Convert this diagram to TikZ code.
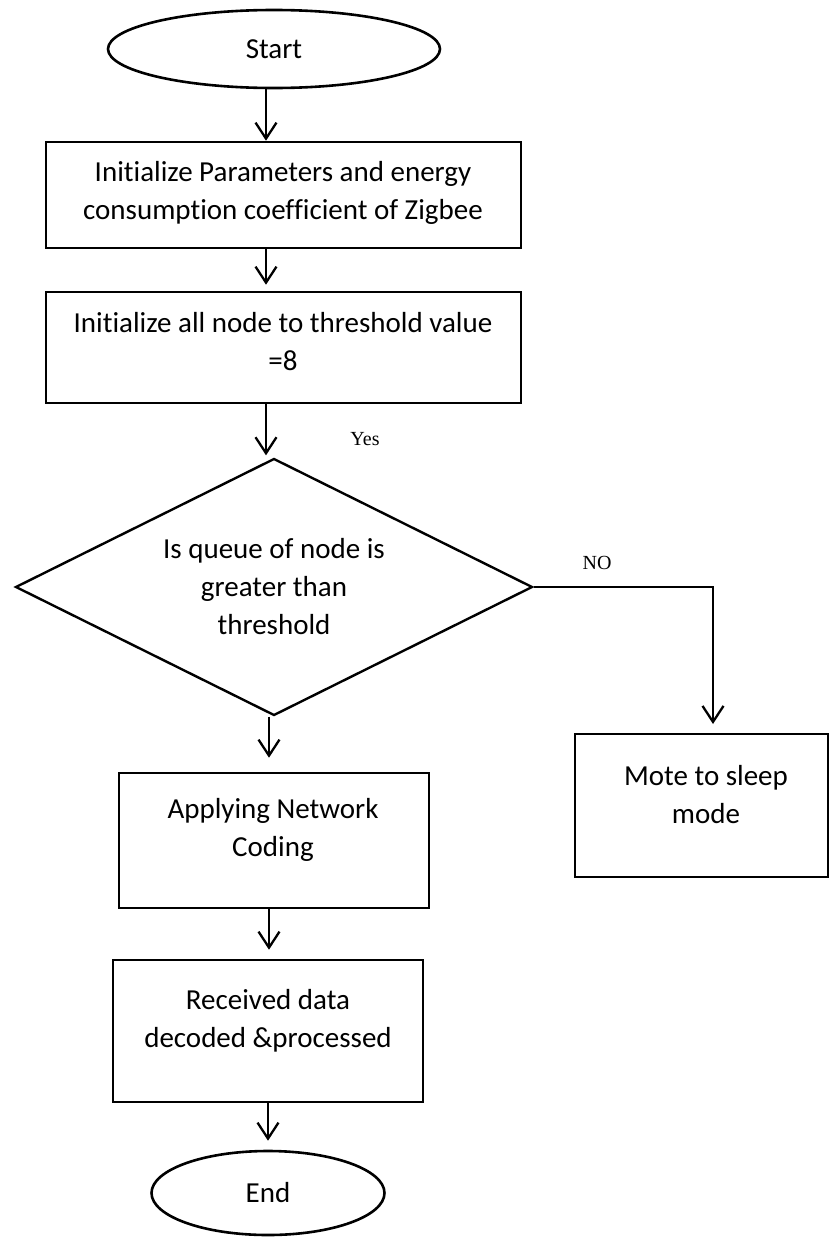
\documentclass[tikz,border=0pt]{standalone}
\usepackage{fontspec}
\setmainfont{Carlito}[Ligatures={NoCommon}]
\newfontfamily\tnr{Liberation Serif}
\usetikzlibrary{shapes.geometric,arrows.meta}
\begin{document}
\begin{tikzpicture}[x=1pt,y=-1pt,
  boxstyle/.style={draw,line width=2.6pt,rectangle,inner sep=0pt},
  ovalstyle/.style={draw,line width=2.6pt,ellipse,inner sep=0pt},
  decstyle/.style={draw,line width=2.4pt,diamond,aspect=2,inner sep=0pt,align=center,
     font=\fontsize{29}{38}\selectfont},
  txt/.style={align=center,inner sep=0pt,font=\fontsize{29}{38}\selectfont},
  lbl/.style={inner sep=0pt,font=\tnr\fontsize{20}{24}\selectfont},
  flow/.style={line width=2.3pt,-{Straight Barb[length=16pt,width=21pt]}},
  thin/.style={line width=1.7pt}]
\useasboundingbox (0,0) rectangle (829,1237);
% shapes
\node[ovalstyle,minimum width=332pt,minimum height=78pt,font=\fontsize{29}{38}\selectfont] (start) at (274,49) {Start};
\node[boxstyle,minimum width=475pt,minimum height=106pt] (b1) at (283.5,195) {};
\node[txt] (t1) at (283,192.5) {Initialize Parameters and energy\\consumption coefficient of Zigbee};
\node[boxstyle,minimum width=475pt,minimum height=111pt] (b2) at (283.5,347.5) {};
\node[txt] (t2) at (283,342) {Initialize all node to threshold value\\=8};
\node[decstyle,minimum width=517pt,minimum height=257pt] (dec) at (274,587) {Is queue of node is\\greater than\\threshold};
\node[boxstyle,minimum width=253pt,minimum height=143pt] (b3) at (701.5,805.5) {};
\node[txt] (t3) at (706,794.5) {Mote to sleep\\mode};
\node[boxstyle,minimum width=310pt,minimum height=135pt] (b4) at (274,840.5) {};
\node[txt] (t4) at (273,830) {Applying Network\\Coding};
\node[boxstyle,minimum width=310pt,minimum height=142pt] (b5) at (268,1031) {};
\node[txt] (t5) at (268,1021) {Received data\\decoded \&processed};
\node[ovalstyle,minimum width=233pt,minimum height=84pt,font=\fontsize{29}{38}\selectfont] (end) at (268,1193) {End};
% labels
\node[lbl] (yes) at (365,439) {Yes};
\node[lbl] (no) at (597,563) {NO};
% columns for arrows
\coordinate (ax) at (266,0);
\coordinate (bx) at (269,0);
\coordinate (cx) at (268,0);
\coordinate (nox) at (713,586);
\coordinate (noend) at (713,724);
% connectors
\draw[flow] (start.south -| ax) -- (b1.north -| ax);
\draw[flow,shorten >=6pt] (b1.south -| ax) -- (b2.north -| ax);
\draw[flow,shorten >=2pt] (b2.south -| ax) -- (dec.north -| ax);
\draw[flow,shorten >=14pt] (dec.south -| bx) -- (b4.north -| bx);
\draw[flow,shorten >=9pt] (b4.south -| bx) -- (b5.north -| bx);
\draw[flow,shorten >=9pt] (b5.south -| cx) -- (end.north -| cx);
\draw[thin] (dec.east) -- (dec.east -| nox) -- (nox);
\draw[flow] (nox) -- (noend);
\end{tikzpicture}
\end{document}
